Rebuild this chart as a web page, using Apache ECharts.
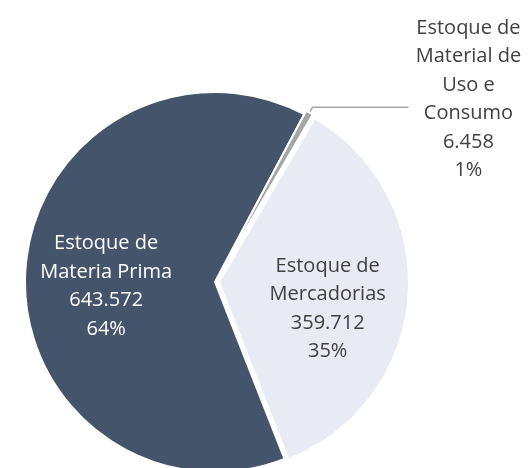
<!DOCTYPE html>
<html>
<head>
<meta charset="utf-8">
<script src="https://cdn.jsdelivr.net/npm/echarts@6/dist/echarts.min.js"></script>
<style>
  html, body { margin: 0; padding: 0; background: #fff; }
  #chart { width: 531px; height: 468px; }
</style>
</head>
<body>
<div id="chart"></div>
<script>
const categories = ['Estoque de\nMateria Prima', 'Estoque de\nMercadorias', 'Estoque de\nMaterial de\nUso e\nConsumo'];
const values = [643572, 359712, 6458];
const colors = ['#44546a', '#e8eaf4', '#a5a5a5'];
const labelColors = ['#ffffff', '#404040', '#404040'];
const exploded = [false, true, true];

const fmt = (v) => String(v).replace(/\B(?=(\d{3})+(?!\d))/g, '.');

const chart = echarts.init(document.getElementById('chart'));

const textFont = { fontFamily: 'Open Sans', fontSize: 20, lineHeight: 28.5 };

const option = {
    backgroundColor: '#ffffff',
    animation: false,
    series: [
        {
            type: 'pie',
            center: [215, 282],
            radius: 190,
            startAngle: 62,
            clockwise: false,
            percentPrecision: 0,
            selectedMode: 'multiple',
            selectedOffset: 4,
            avoidLabelOverlap: false,
            itemStyle: {
                borderColor: '#ffffff',
                borderWidth: 2,
            },
            emphasis: { disabled: true },
            label: Object.assign({
                position: 'inside',
                align: 'center',
                formatter: (p) => p.name + '\n' + fmt(p.value) + '\n' + p.percent + '%',
            }, textFont),
            labelLayout: (params) => {
                if (params.dataIndex === 0) return { dx: -11, dy: 10 };
                if (params.dataIndex === 1) return { dx: 11, dy: 19 };
                return {};
            },
            data: categories.map((name, i) => {
                const item = {
                    name: name,
                    value: values[i],
                    selected: exploded[i],
                    itemStyle: { color: colors[i] },
                    label: { color: labelColors[i] },
                    labelLine: { show: false },
                };
                if (i === 2) {
                    item.label = {
                        position: 'outside',
                        color: labelColors[i],
                        distanceToLabelLine: 5,
                        padding: [0, 0, 16, 0],
                        formatter: (p) => (p.name + '\n' + fmt(p.value) + '\n' + p.percent + '%')
                            .split('\n').map((s) => '{c|' + s + '}').join('\n'),
                        rich: {
                            c: Object.assign({ width: 110, align: 'center', color: labelColors[i] }, textFont),
                        },
                    };
                    item.labelLine = {
                        show: true,
                        length: 6,
                        length2: 96,
                        lineStyle: { color: '#a6a6a6', width: 1.5 },
                    };
                }
                return item;
            }),
        },
    ],
};

chart.setOption(option);
</script>
</body>
</html>
